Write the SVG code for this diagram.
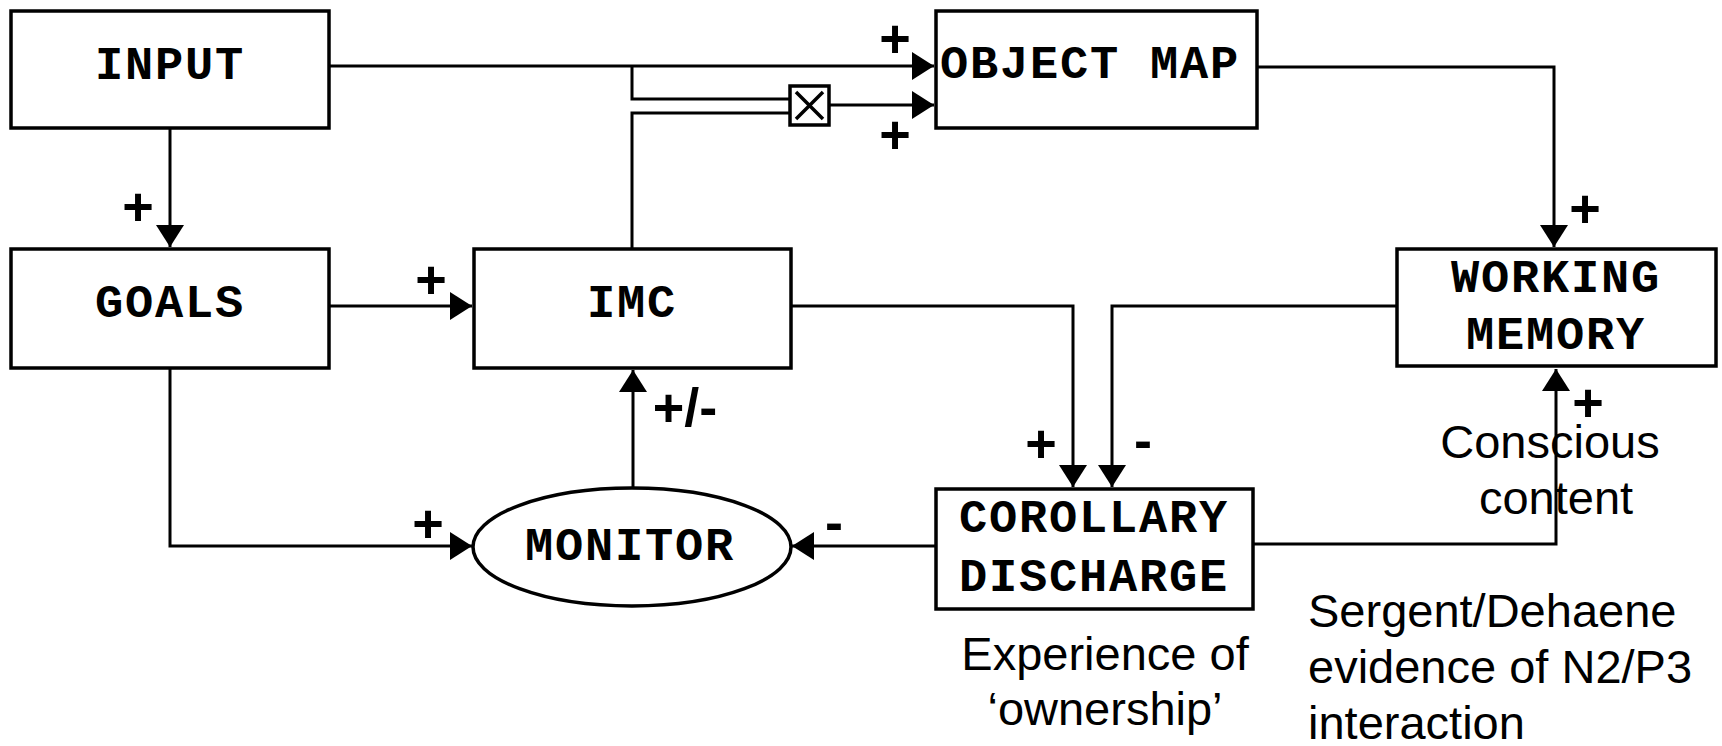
<svg xmlns="http://www.w3.org/2000/svg" width="1722" height="746" viewBox="0 0 1722 746">
<style>
.box{fill:#fff;stroke:#000;stroke-width:3.5}
.node{font-family:"Liberation Mono","DejaVu Sans Mono",monospace;font-weight:bold;font-size:47px;letter-spacing:1.8px;text-anchor:middle;fill:#000}
.sign{font-family:"Liberation Sans",Arial,sans-serif;font-weight:bold;font-size:54px;text-anchor:middle;fill:#000}
.note{font-family:"Liberation Sans",Arial,sans-serif;font-size:47px;fill:#000}
.conn path{fill:none;stroke:#000;stroke-width:3}
</style>
<defs>
<marker id="arr" markerUnits="userSpaceOnUse" markerWidth="24" markerHeight="30" refX="22" refY="14" orient="auto">
<path d="M0,0 L22,14 L0,28 Z" fill="#000"/>
</marker>
</defs>
<g id="connectors" class="conn">
<path d="M329,66 H934" marker-end="url(#arr)"/>
<path d="M632,66 V99 H790"/>
<path d="M632,249 V113 H790"/>
<path d="M829,105 H934" marker-end="url(#arr)"/>
<path d="M1257,67 H1554 V247" marker-end="url(#arr)"/>
<path d="M170,128 V247" marker-end="url(#arr)"/>
<path d="M329,306 H472" marker-end="url(#arr)"/>
<path d="M791,306 H1073 V487" marker-end="url(#arr)"/>
<path d="M1397,306 H1112 V487" marker-end="url(#arr)"/>
<path d="M170,368 V546 H472" marker-end="url(#arr)"/>
<path d="M633,488 V370" marker-end="url(#arr)"/>
<path d="M935,546 H792" marker-end="url(#arr)"/>
<path d="M1253,544 H1556 V369" marker-end="url(#arr)"/>
</g>
<g id="gate">
<rect class="box" x="790" y="86" width="39" height="39" stroke-width="3"/>
<path d="M796,92 L823,119 M823,92 L796,119" stroke="#000" stroke-width="3.5" fill="none"/>
</g>
<g id="input"><rect class="box" x="11" y="11" width="318" height="117"/><text class="node" x="170" y="79">INPUT</text></g>
<g id="object-map"><rect class="box" x="936" y="11" width="321" height="117"/><text class="node" x="1090" y="78">OBJECT MAP</text></g>
<g id="goals"><rect class="box" x="11" y="249" width="318" height="119"/><text class="node" x="170" y="317">GOALS</text></g>
<g id="imc"><rect class="box" x="474" y="249" width="317" height="119"/><text class="node" x="632" y="317">IMC</text></g>
<g id="working-memory"><rect class="box" x="1397" y="249" width="319" height="117"/><text class="node" x="1556" y="292">WORKING</text><text class="node" x="1556" y="349">MEMORY</text></g>
<g id="corollary-discharge"><rect class="box" x="936" y="489" width="317" height="120"/><text class="node" x="1094" y="532">COROLLARY</text><text class="node" x="1094" y="591">DISCHARGE</text></g>
<g id="monitor"><ellipse class="box" cx="632" cy="547" rx="159" ry="59"/><text class="node" x="630" y="560">MONITOR</text></g>
<g id="labels">
<text class="sign" x="895" y="57">+</text>
<text class="sign" x="895" y="153">+</text>
<text class="sign" x="138" y="225">+</text>
<text class="sign" x="431" y="298">+</text>
<text class="sign" x="1585" y="227">+</text>
<text class="sign" x="1041" y="462">+</text>
<text class="sign" x="1143" y="459">-</text>
<text class="sign" x="1588" y="421">+</text>
<text class="sign" x="428" y="542">+</text>
<text class="sign" x="834" y="541">-</text>
<text class="sign" x="685" y="426">+/-</text>
</g>
<g id="notes">
<text class="note" x="1550" y="458" text-anchor="middle">Conscious</text>
<text class="note" x="1556" y="514" text-anchor="middle">content</text>
<text class="note" x="1105" y="670" text-anchor="middle">Experience of</text>
<text class="note" x="1105" y="725" text-anchor="middle">‘ownership’</text>
<text class="note" x="1308" y="627">Sergent/Dehaene</text>
<text class="note" x="1308" y="683">evidence of N2/P3</text>
<text class="note" x="1308" y="739">interaction</text>
</g>
</svg>
